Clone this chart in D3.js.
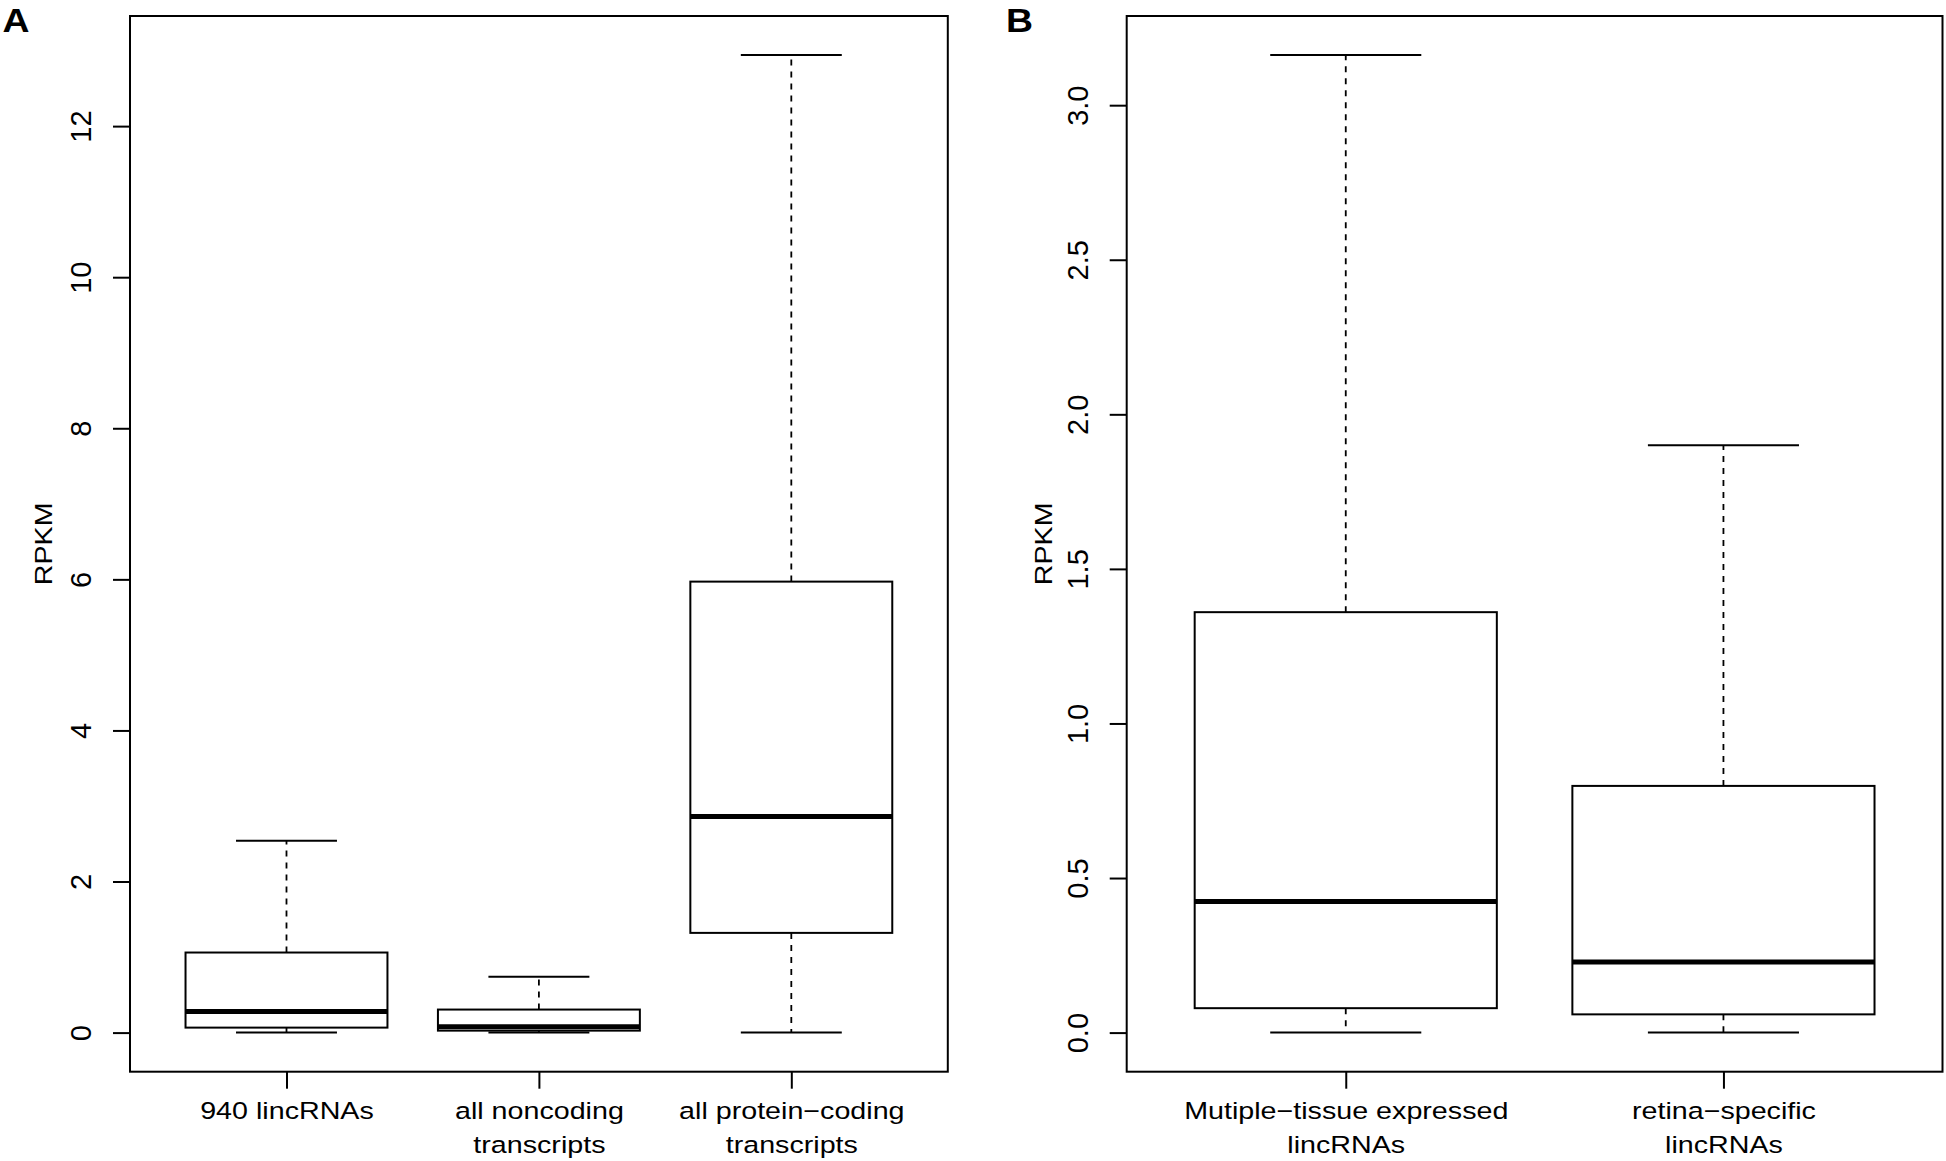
<!DOCTYPE html>
<html>
<head>
<meta charset="utf-8">
<script src="https://cdn.jsdelivr.net/npm/d3@7"></script>
<style>
  body { margin: 0; background: #fff; }
  svg { display: block; }
  text { font-family: "Liberation Sans", Arial, sans-serif; fill: #000; }
</style>
</head>
<body>
<svg id="chart" width="1946" height="1161"></svg>
<script>
// panel A
var groupsA = [['940 lincRNAs'], ['all noncoding', 'transcripts'], ['all protein\u2212coding', 'transcripts']];
var minA = [0, 0, 0];
var q1A  = [0.066, 0.026, 1.32];
var medA = [0.28, 0.079, 2.86];
var q3A  = [1.06, 0.305, 5.97];
var maxA = [2.54, 0.74, 12.94];
var ticksA = [0, 2, 4, 6, 8, 10, 12];

// panel B
var groupsB = [['Mutiple\u2212tissue expressed', 'lincRNAs'], ['retina\u2212specific', 'lincRNAs']];
var minB = [0, 0];
var q1B  = [0.079, 0.059];
var medB = [0.424, 0.228];
var q3B  = [1.36, 0.798];
var maxB = [3.162, 1.90];
var ticksB = [0, 0.5, 1.0, 1.5, 2.0, 2.5, 3.0];

var svg = d3.select('#chart');
var top_y = 16, bottom_y = 1071.7;
var stretch = 1.22;

var draw_panel = function(opt) {
    var n = opt.groups.length;
    var pad = n * 0.04;
    var x = d3.scaleLinear()
        .domain([0.5 - pad, n + 0.5 + pad])
        .range([opt.left, opt.right]);
    var all = d3.merge([opt.min, opt.max]);
    var ext = d3.extent(all);
    var ypad = (ext[1] - ext[0]) * 0.04;
    var y = d3.scaleLinear()
        .domain([ext[0] - ypad, ext[1] + ypad])
        .range([bottom_y, top_y]);

    var g = svg.append('g');

    var boxes = d3.range(n).map(function(i) {
        return { i: i + 1, min: opt.min[i], q1: opt.q1[i], med: opt.med[i], q3: opt.q3[i], max: opt.max[i] };
    });

    boxes.forEach(function(b) {
        // whiskers, dashed like R's lty=2
        g.append('line')
            .attr('x1', x(b.i)).attr('x2', x(b.i))
            .attr('y1', y(b.q3)).attr('y2', y(b.max))
            .attr('stroke', '#000').attr('stroke-width', 1.8)
            .attr('stroke-dasharray', '6,6');
        g.append('line')
            .attr('x1', x(b.i)).attr('x2', x(b.i))
            .attr('y1', y(b.q1)).attr('y2', y(b.min))
            .attr('stroke', '#000').attr('stroke-width', 1.8)
            .attr('stroke-dasharray', '6,6');
        // staples
        [b.min, b.max].forEach(function(v) {
            g.append('line')
                .attr('x1', x(b.i - 0.2)).attr('x2', x(b.i + 0.2))
                .attr('y1', y(v)).attr('y2', y(v))
                .attr('stroke', '#000').attr('stroke-width', 2);
        });
        g.append('rect')
            .attr('x', x(b.i - 0.4))
            .attr('y', y(b.q3))
            .attr('width', x(b.i + 0.4) - x(b.i - 0.4))
            .attr('height', y(b.q1) - y(b.q3))
            .attr('fill', '#fff')
            .attr('stroke', '#000').attr('stroke-width', 2);
        g.append('line')
            .attr('x1', x(b.i - 0.4)).attr('x2', x(b.i + 0.4))
            .attr('y1', y(b.med)).attr('y2', y(b.med))
            .attr('stroke', '#000').attr('stroke-width', 5);
    });

    // frame
    g.append('rect')
        .attr('x', opt.left).attr('y', top_y)
        .attr('width', opt.right - opt.left)
        .attr('height', bottom_y - top_y)
        .attr('fill', 'none')
        .attr('stroke', '#000').attr('stroke-width', 2);

    var yAxis = d3.axisLeft(y).tickValues(opt.ticks).tickSize(17).tickSizeOuter(0)
        .tickFormat(opt.fmt);
    var ya = g.append('g').attr('transform', 'translate(' + opt.left + ',0)').call(yAxis);
    ya.select('.domain').remove();
    ya.selectAll('line').attr('stroke-width', 2);
    ya.selectAll('text')
        .attr('transform', 'rotate(-90)')
        .attr('x', 0).attr('y', -39).attr('dy', null)
        .attr('text-anchor', 'middle')
        .style('font-size', '29px')
        .style('font-family', '"Liberation Sans", Arial, sans-serif');

    var xAxis = d3.axisBottom(x).tickValues(d3.range(1, n + 1)).tickSize(17).tickSizeOuter(0)
        .tickFormat('');
    var xa = g.append('g').attr('transform', 'translate(0,' + bottom_y + ')').call(xAxis);
    xa.select('.domain').remove();
    xa.selectAll('line').attr('stroke-width', 2);
    xa.selectAll('.tick').each(function(d) {
        var lines = opt.groups[d - 1];
        var t = d3.select(this).select('text')
            .attr('y', null).attr('dy', null)
            .attr('transform', 'scale(' + stretch + ',1)')
            .attr('text-anchor', 'middle')
            .style('font-size', '23.5px')
            .style('font-family', '"Liberation Sans", Arial, sans-serif');
        lines.forEach(function(l, k) {
            t.append('tspan').attr('x', 0).attr('y', 47.5 + k * 34).text(l);
        });
    });

    g.append('text')
        .attr('transform', 'translate(' + opt.ylab_x + ',' + ((top_y + bottom_y) / 2) + ') rotate(-90) scale(' + stretch + ',1)')
        .attr('text-anchor', 'middle')
        .style('font-size', '23.5px')
        .text('RPKM');

    g.append('text')
        .attr('transform', 'translate(' + opt.letter_x + ',32) scale(1.15,1)')
        .style('font-size', '32.5px')
        .style('font-weight', 'bold')
        .text(opt.letter);
};

draw_panel({
    groups: groupsA, min: minA, q1: q1A, med: medA, q3: q3A, max: maxA,
    ticks: ticksA, fmt: d3.format('d'),
    left: 130, right: 947.8, ylab_x: 51.7, letter_x: 2.5, letter: 'A'
});
draw_panel({
    groups: groupsB, min: minB, q1: q1B, med: medB, q3: q3B, max: maxB,
    ticks: ticksB, fmt: d3.format('.1f'),
    left: 1126.7, right: 1942.5, ylab_x: 1051.7, letter_x: 1006, letter: 'B'
});
</script>
</body>
</html>
